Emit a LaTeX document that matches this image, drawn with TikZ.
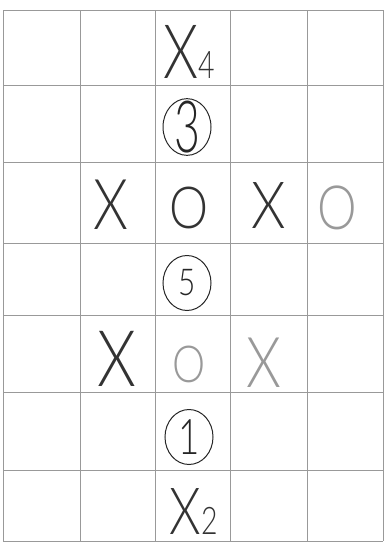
\documentclass[tikz,border=0pt]{standalone}
\usepackage{fontspec}
\newfontfamily\handfont{Lato Light}
\newcommand\handsz[1]{\fontsize{#1}{#1}\selectfont}
\newcommand\slim[2][0.75]{\scalebox{#1}[1]{#2}}
\usetikzlibrary{shapes.geometric}
\begin{document}
\begin{tikzpicture}[x=1pt,y=-1pt,
 font=\handfont,
 grid/.style={draw=black!40,line width=0.7pt},
 xo/.style={inner sep=0pt,text=black!80},
 faint/.style={text=black!40},
 ring/.style={ellipse,draw=black!85,line width=1pt,minimum width=48pt,minimum height=55pt,inner sep=-6pt,text=black!85}]
\useasboundingbox (0,0) rectangle (387,544);
% grid
\foreach \y in {10,85,162,243,315,392,470,541}
 \draw[grid] (3,\y) -- (383,\y);
\foreach \x in {3,80,155,230,307,383}
 \draw[grid] (\x,10) -- (\x,541);
% column 3: moves
\node[xo,anchor=base] (xfour) at (189,78) {\handsz{75}\slim[0.75]{X}\handsz{38}\slim{4}};
\node[ring,font=\handfont\handsz{72}] (three) at (187,127) {\slim[0.62]{3}};
\node[ring,font=\handfont\handsz{37}] (five) at (187,283) {\slim[0.8]{5}};
\node[ring,font=\handfont\handsz{49}] (one) at (189,437) {\slim{1}};
\node[xo,font=\handfont\handsz{65}] (xtwo) at (185,511) {\slim[0.78]{X}};
\node[xo,font=\handfont\handsz{38},anchor=base west] (two) at (xtwo.base east) {\slim{2}};
% row 3
\node[xo,font=\handfont\handsz{70}] (xa) at (111,205) {\slim[0.8]{X}};
\node[xo,font=\handfont\handsz{58}] (oa) at (189,208) {\slim[0.85]{O}};
\node[xo,font=\handfont\handsz{65}] (xb) at (269,206) {\slim[0.85]{X}};
\node[xo,faint,font=\handfont\handsz{61}] (ob) at (337,208) {\slim[0.82]{O}};
% row 5
\node[xo,font=\handfont\handsz{78}] (xc) at (117,359) {\slim[0.8]{X}};
\node[xo,faint,font=\handfont\handsz{51}] (oc) at (189,364) {\slim[0.82]{O}};
\node[xo,faint,font=\handfont\handsz{70}] (xd) at (264,363) {\slim[0.8]{X}};
\end{tikzpicture}
\end{document}
